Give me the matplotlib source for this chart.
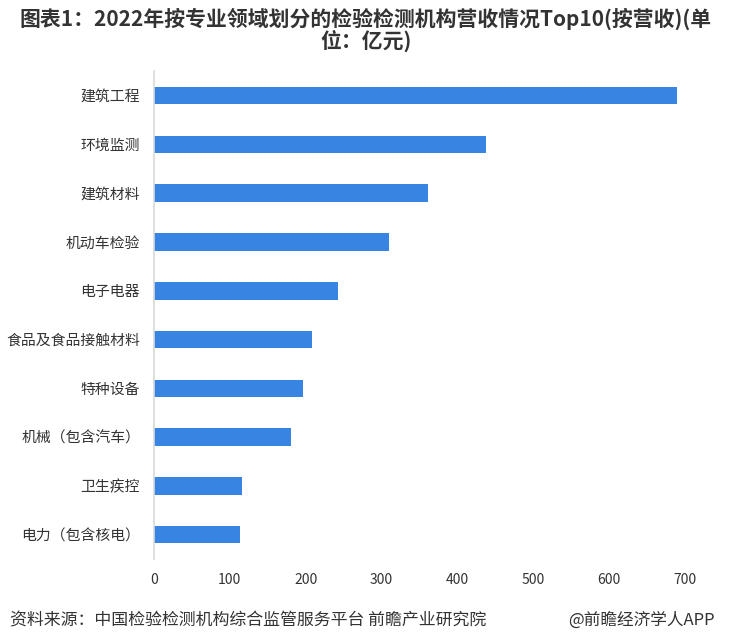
import matplotlib
matplotlib.use("Agg")
import matplotlib.pyplot as plt

plt.rcParams["font.family"] = ["Noto Sans CJK SC", "DejaVu Sans"]

categories = ["建筑工程", "环境监测", "建筑材料", "机动车检验", "电子电器",
              "食品及食品接触材料", "特种设备", "机械（包含汽车）", "卫生疾控", "电力（包含核电）"]
revenue = [690, 437, 361, 310, 242, 208, 197, 181, 116, 113]
xticks = [0, 100, 200, 300, 400, 500, 600, 700]

title = "图表1：2022年按专业领域划分的检验检测机构营收情况Top10(按营收)(单\n位：亿元)"
source = "资料来源：中国检验检测机构综合监管服务平台 前瞻产业研究院"
credit = "@前瞻经济学人APP"

fig = plt.figure(figsize=(7.32, 6.36), dpi=100)
ax = fig.add_axes([0.2104, 0.121, 0.7254, 0.767])

ax.barh(range(len(categories)), revenue, height=0.36, color="#3784E2")
ax.set_ylim(9.5, -0.5)
ax.set_xlim(0, 700)
ax.set_yticks(range(len(categories)))
ax.set_yticklabels(categories, fontsize=10.7, color="#333333")
ax.set_xticks(xticks)
ax.set_xticklabels([str(t) for t in xticks], fontsize=10, color="#333333")
ax.tick_params(axis="both", length=0)
ax.tick_params(axis="x", pad=10)
ax.tick_params(axis="y", pad=10)

for side in ["top", "right", "bottom"]:
    ax.spines[side].set_visible(False)
ax.spines["left"].set_color("#d9d9d9")
ax.spines["left"].set_linewidth(1.2)

fig.text(0.5, 0.988, title, ha="center", va="top", fontsize=15,
         fontweight="bold", color="#333333", linespacing=1.0)
fig.text(0.013, 0.025, source, ha="left", va="center", fontsize=12.2, color="#333333")
fig.text(0.976, 0.025, credit, ha="right", va="center", fontsize=12, color="#333333")

fig.savefig("out.png", dpi=100)
